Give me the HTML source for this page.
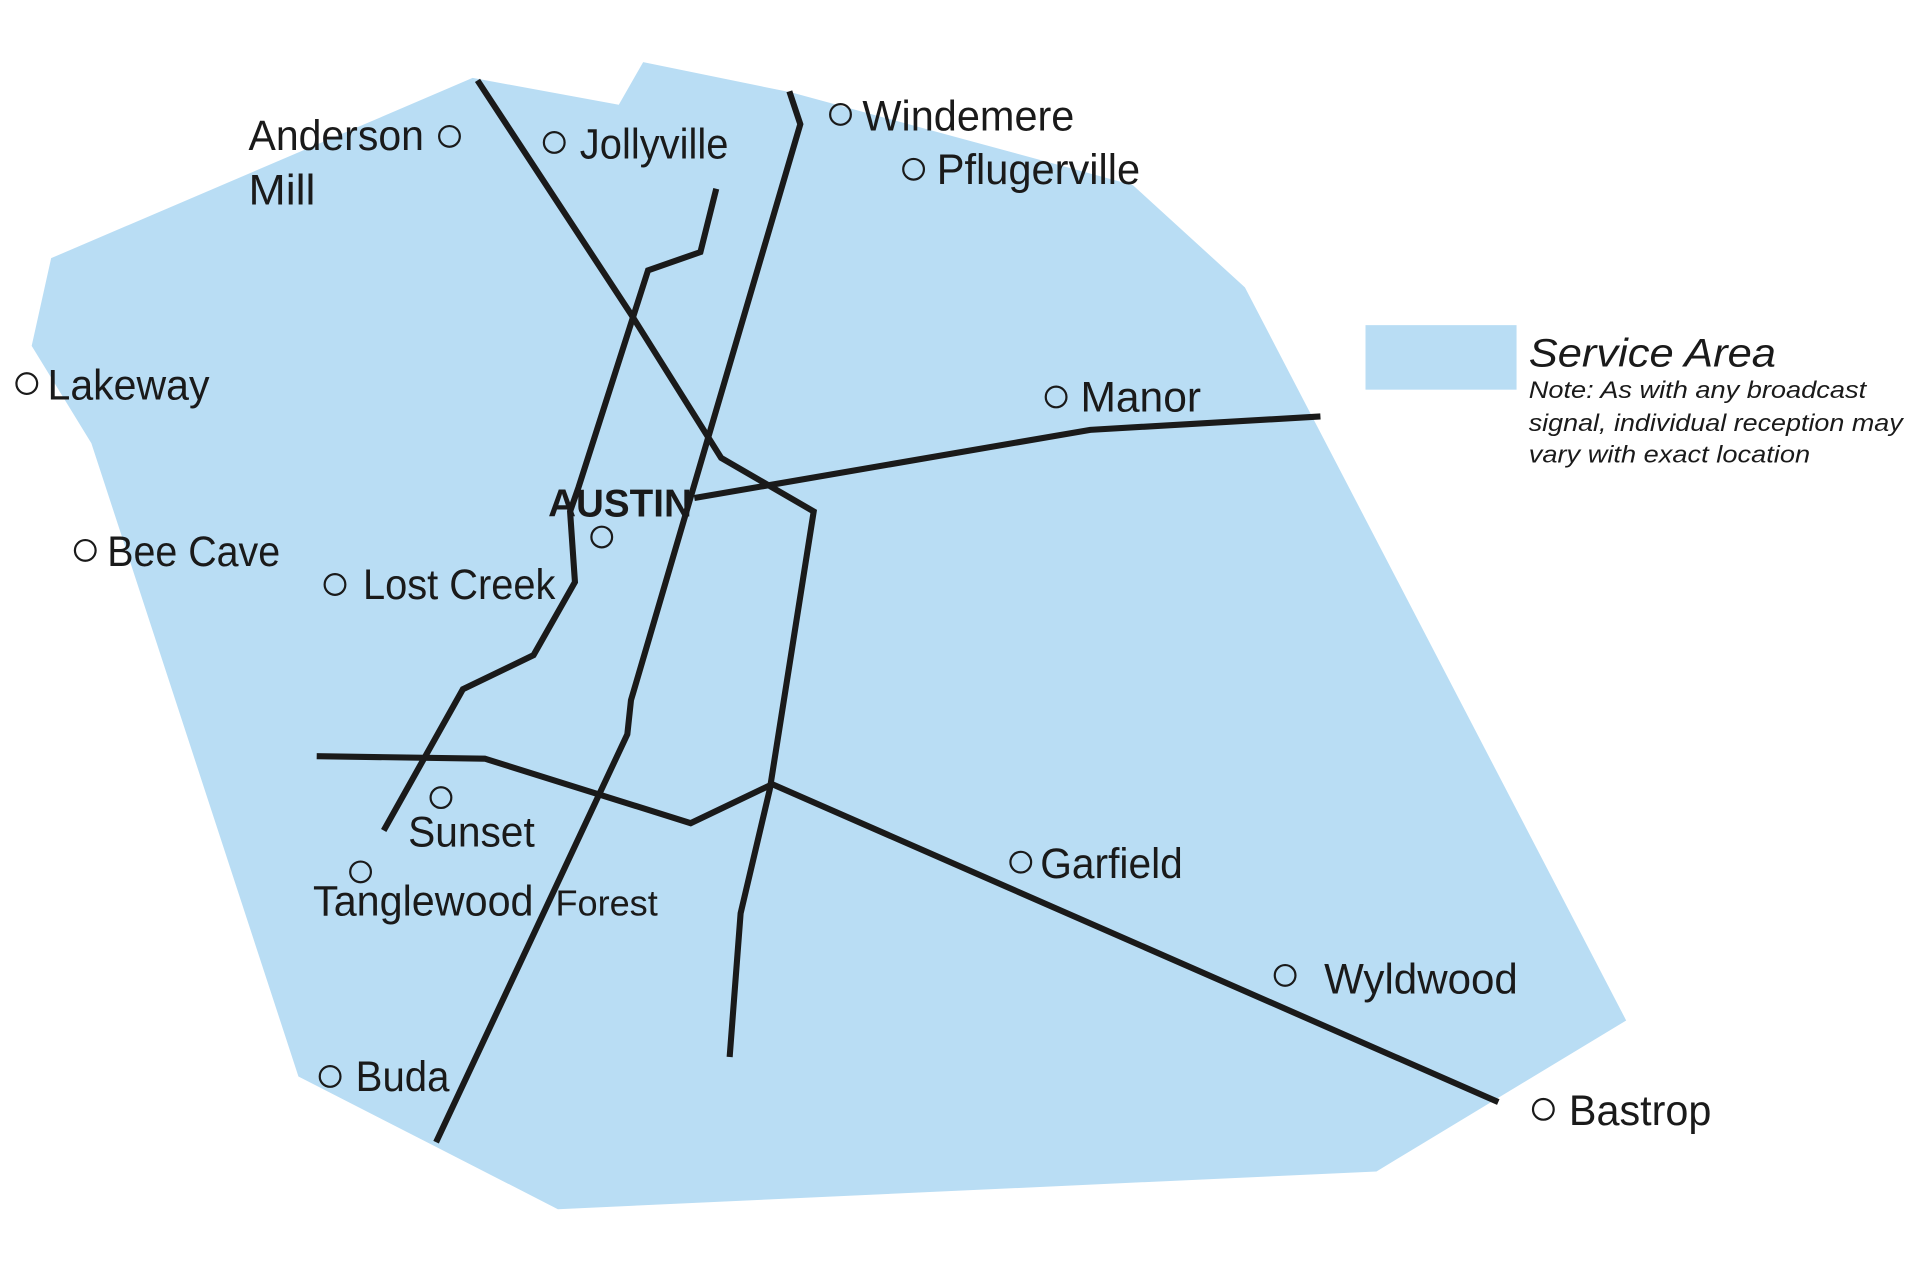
<!DOCTYPE html>
<html><head><meta charset="utf-8"><style>
html,body{margin:0;padding:0;background:#fff;}
svg{display:block;}
text{font-family:"Liberation Sans Narrow","Liberation Sans",sans-serif;fill:#1a1a1a;}
</style></head><body>
<svg width="1910" height="1264" viewBox="0 0 1568 1038" preserveAspectRatio="none" xmlns="http://www.w3.org/2000/svg">
<polygon fill="#b9ddf4" points="388,64 508,86 528,51 650,76 930,152 1022,236 1335,838 1130,962 458,993 245,884 75,364 26,284 42,212"/>
<g fill="none" stroke="#1a1a1a" stroke-width="5" stroke-linejoin="miter">
<polyline points="392,66 518,258 592,376 668,420 632,648 608,750 599,868"/>
<polyline points="648,75 657,102 518,575 515,603 358,938"/>
<polyline points="588,155 575,207 532,222 475,400 468,420 472,478 438,538 380,566 315,682"/>
<polyline points="570,409 895,353 1084,342"/>
<polyline points="260,621 398,623 567,676 634,644 1230,905"/>
</g>
<g fill="none" stroke="#1a1a1a" stroke-width="1.8">
<circle cx="369" cy="112" r="8.5"/><circle cx="455" cy="117" r="8.5"/>
<circle cx="690" cy="94" r="8.5"/><circle cx="750" cy="139" r="8.5"/>
<circle cx="22" cy="315" r="8.5"/><circle cx="867" cy="326" r="8.5"/>
<circle cx="70" cy="452" r="8.5"/><circle cx="494" cy="441" r="8.5"/>
<circle cx="275" cy="480" r="8.5"/><circle cx="362" cy="655" r="8.5"/>
<circle cx="296" cy="716" r="8.5"/><circle cx="838" cy="708" r="8.5"/>
<circle cx="1055" cy="801" r="8.5"/><circle cx="271" cy="884" r="8.5"/>
<circle cx="1267" cy="911" r="8.5"/>
</g>
<g font-size="35">
<text x="204" y="123" textLength="144" lengthAdjust="spacingAndGlyphs">Anderson</text>
<text x="204" y="168" textLength="55" lengthAdjust="spacingAndGlyphs">Mill</text>
<text x="476" y="130" textLength="122" lengthAdjust="spacingAndGlyphs">Jollyville</text>
<text x="708" y="107" textLength="174" lengthAdjust="spacingAndGlyphs">Windemere</text>
<text x="769" y="151" textLength="167" lengthAdjust="spacingAndGlyphs">Pflugerville</text>
<text x="39" y="328" textLength="133" lengthAdjust="spacingAndGlyphs">Lakeway</text>
<text x="887" y="338" textLength="99" lengthAdjust="spacingAndGlyphs">Manor</text>
<text x="88" y="465" textLength="142" lengthAdjust="spacingAndGlyphs">Bee Cave</text>
<text x="298" y="492" textLength="158" lengthAdjust="spacingAndGlyphs">Lost Creek</text>
<text x="335" y="695" textLength="104" lengthAdjust="spacingAndGlyphs">Sunset</text>
<text x="257" y="752" textLength="181" lengthAdjust="spacingAndGlyphs">Tanglewood</text>
<text x="854" y="721" textLength="117" lengthAdjust="spacingAndGlyphs">Garfield</text>
<text x="1087" y="816" textLength="159" lengthAdjust="spacingAndGlyphs">Wyldwood</text>
<text x="292" y="896" textLength="77" lengthAdjust="spacingAndGlyphs">Buda</text>
<text x="1288" y="924" textLength="117" lengthAdjust="spacingAndGlyphs">Bastrop</text>
<text x="456" y="752" font-size="30" textLength="84" lengthAdjust="spacingAndGlyphs">Forest</text>
<text x="450" y="424" font-size="32" font-weight="bold" textLength="118" lengthAdjust="spacingAndGlyphs">AUSTIN</text>
</g>
<rect x="1121" y="267" width="124" height="53" fill="#b9ddf4"/>
<g font-style="italic">
<text x="1255" y="301" font-size="33" textLength="203" lengthAdjust="spacingAndGlyphs">Service Area</text>
<text x="1255" y="327" font-size="20" textLength="277" lengthAdjust="spacingAndGlyphs">Note: As with any broadcast</text>
<text x="1255" y="354" font-size="20" textLength="307" lengthAdjust="spacingAndGlyphs">signal, individual reception may</text>
<text x="1255" y="380" font-size="20" textLength="231" lengthAdjust="spacingAndGlyphs">vary with exact location</text>
</g>
</svg>
</body></html>
